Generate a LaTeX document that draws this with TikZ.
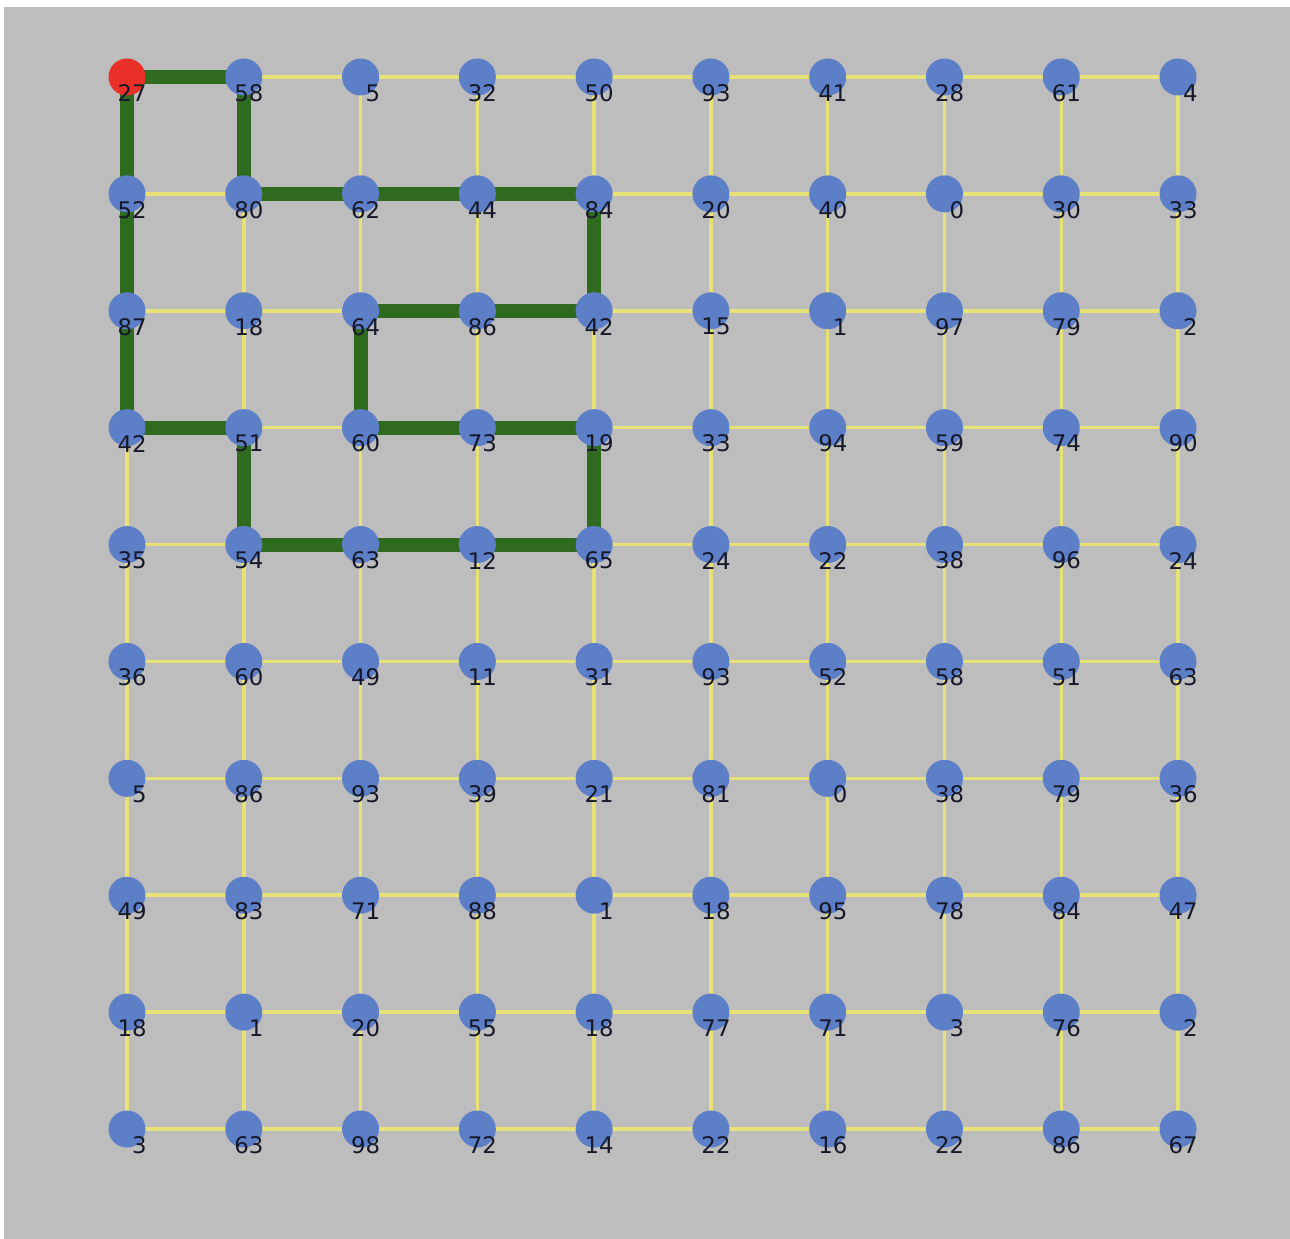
\documentclass[tikz,border=0pt]{standalone}
\usepackage{fontspec}
\setmainfont{DejaVu Sans}
\usepackage{xcolor}
\usepackage{tikz}
\usetikzlibrary{calc}
\definecolor{canvasBg}{RGB}{189, 189, 189}
\definecolor{dotBlue}{RGB}{92, 127, 199}
\definecolor{startRed}{RGB}{232, 48, 40}
\definecolor{gridYellow}{RGB}{232, 226, 118}
\definecolor{tourGreen}{RGB}{47, 107, 31}
\definecolor{numText}{RGB}{22, 24, 40}
\pgfdeclarelayer{canvas}
\pgfdeclarelayer{edges}
\pgfsetlayers{canvas,edges,main}

\begin{document}
\begin{tikzpicture}[
    x=0.02cm, y=-0.02cm,
    dot/.style={circle, inner sep=0pt, minimum size=0.74cm, draw=none},
    numLabel/.style={anchor=east, inner sep=0pt, text=numText, font=\fontsize{13}{15}\selectfont},
    gridEdge/.style={draw=gridYellow, line width=2pt},
    tourEdge/.style={draw=tourGreen, line width=8pt, line join=round}
]

    % Canvas
    \useasboundingbox (0,0) rectangle (1290,1239);
    \begin{pgfonlayer}{canvas}
        \fill[white] (0,0) rectangle (1290,1239);
        \fill[canvasBg] (4,7) rectangle (1290,1239);
    \end{pgfonlayer}

    % Nodes
    \foreach \row [count=\r from 0] in {
        {27,58,5,32,50,93,41,28,61,4},
        {52,80,62,44,84,20,40,0,30,33},
        {87,18,64,86,42,15,1,97,79,2},
        {42,51,60,73,19,33,94,59,74,90},
        {35,54,63,12,65,24,22,38,96,24},
        {36,60,49,11,31,93,52,58,51,63},
        {5,86,93,39,21,81,0,38,79,36},
        {49,83,71,88,1,18,95,78,84,47},
        {18,1,20,55,18,77,71,3,76,2},
        {3,63,98,72,14,22,16,22,86,67}} {
        \foreach \lab [count=\c from 0] in \row {
            \ifnum\numexpr\c+\r\relax=0 \def\dotcol{startRed}\else\def\dotcol{dotBlue}\fi
            \node[dot, fill=\dotcol] (n-\c-\r) at ({127+116.78*\c}, {77+116.89*\r}) {};
            \node[numLabel] (t-\c-\r) at ($(n-\c-\r.center)+(20,16)$) {\lab};
        }
    }

    % Edges
    \begin{pgfonlayer}{edges}
        \foreach \c [evaluate=\c as \cn using int(\c+1)] in {0,...,8} {
            \foreach \r in {0,...,9} {
                \draw[gridEdge] (n-\c-\r.center) -- (n-\cn-\r.center);
                \draw[gridEdge] (n-\r-\c.center) -- (n-\r-\cn.center);
            }
        }

        % Tour
        \draw[tourEdge] (n-0-0.center) -- (n-1-0.center) -- (n-1-1.center) -- (n-2-1.center)
            -- (n-3-1.center) -- (n-4-1.center) -- (n-4-2.center) -- (n-3-2.center)
            -- (n-2-2.center) -- (n-2-3.center) -- (n-3-3.center) -- (n-4-3.center)
            -- (n-4-4.center) -- (n-3-4.center) -- (n-2-4.center) -- (n-1-4.center)
            -- (n-1-3.center) -- (n-0-3.center) -- (n-0-2.center) -- (n-0-1.center) -- cycle;
    \end{pgfonlayer}

\end{tikzpicture}
\end{document}
